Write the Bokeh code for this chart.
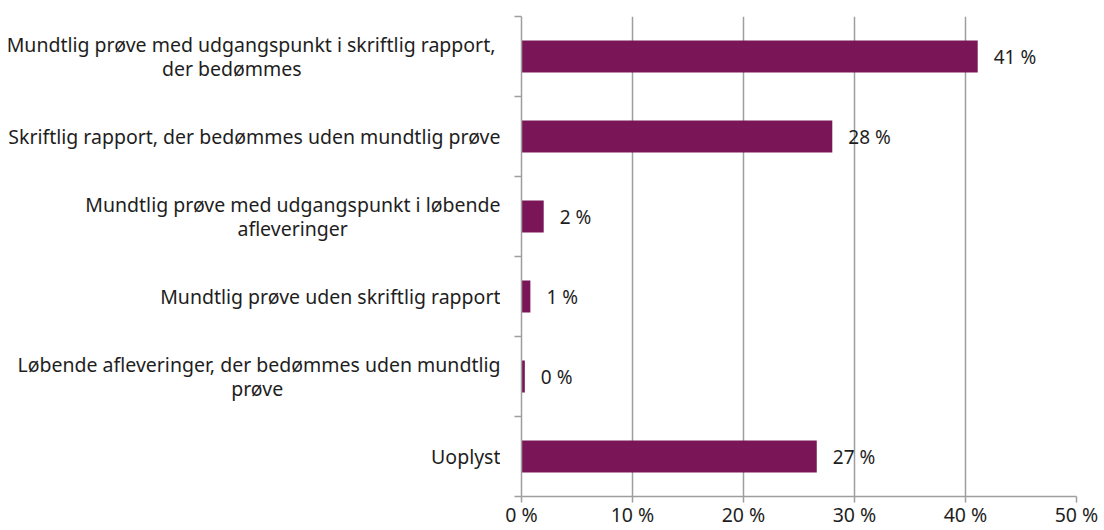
import glob
from bokeh.plotting import figure
from bokeh.layouts import row
from bokeh.models import ColumnDataSource, FixedTicker, Range1d
from bokeh.embed import file_html
from bokeh.resources import INLINE
from bokeh.core.properties import value

categories = [
    "Mundtlig prøve med udgangspunkt i skriftlig  rapport,\nder bedømmes",
    "Skriftlig rapport, der bedømmes uden mundtlig prøve",
    "Mundtlig prøve med udgangspunkt i løbende\nafleveringer",
    "Mundtlig prøve uden skriftlig rapport",
    "Løbende afleveringer, der bedømmes uden mundtlig\nprøve",
    "Uoplyst",
]
values = [41.1, 28.0, 2.0, 0.8, 0.3, 26.6]
x_ticks = [0, 10, 20, 30, 40, 50]

FONT = "Noto Sans"
CAT_SIZE = 19.5
BAR = "#7a1658"
GRID = "#9e9e9e"
TXT = "#1e1e1e"

H = 530
LEFT_W = 500          # width of the label column
MAIN_W = 604
BL, BR, BT, BB = 21, 28, 16, 34
XMAX = 50
n = len(categories)
px_y = (H - BT - BB) / n

centers = [n - i - 0.5 for i in range(n)]
labels = [f"{round(v)} %" for v in values]

# text width measurement (pillow ships with bokeh)
_font = None
try:
    from PIL import ImageFont
    cands = glob.glob("/usr/share/fonts/**/NotoSans-Regular.ttf", recursive=True)
    if cands:
        _font = ImageFont.truetype(cands[0], int(round(CAT_SIZE * 10)))
except Exception:
    _font = None


def text_w(s):
    if _font is not None:
        return _font.getlength(" ".join(s.split())) / 10.0
    return 0.52 * CAT_SIZE * len(s)


# ---- category label column ----
LINE_H = 24
lx, ly, lt, la = [], [], [], []
for c, cat in zip(centers, categories):
    lines = cat.split("\n")
    m = len(lines)
    widths = [text_w(s) for s in lines]
    wmax = max(widths)
    for k, s in enumerate(lines):
        ly.append(c - (k - (m - 1) / 2) * LINE_H / px_y)
        if widths[k] == wmax:
            lx.append(LEFT_W)
            la.append("right")
        else:
            lx.append(LEFT_W - wmax / 2)
            la.append("center")
        lt.append(s)

lab_src = ColumnDataSource(dict(x=lx, y=ly, t=lt, a=la))
pl = figure(width=LEFT_W, height=H, output_backend="svg", toolbar_location=None,
            x_range=Range1d(0, LEFT_W), y_range=Range1d(0, n),
            min_border_left=0, min_border_right=0, min_border_top=BT, min_border_bottom=BB)
pl.axis.visible = False
pl.grid.visible = False
pl.outline_line_color = None
pl.text(x="x", y="y", text="t", text_align="a", source=lab_src, text_baseline="middle",
        text_font=value(FONT), text_font_size=f"{CAT_SIZE}px", text_color=TXT)

# ---- bar chart ----
src = ColumnDataSource(dict(y=centers, v=values, lab=labels))

p = figure(width=MAIN_W, height=H, output_backend="svg", toolbar_location=None,
           x_range=Range1d(0, XMAX), y_range=Range1d(0, n),
           min_border_left=BL, min_border_right=BR, min_border_top=BT, min_border_bottom=BB)
p.outline_line_color = None
p.background_fill_color = "white"
p.border_fill_color = "white"

p.hbar(y="y", right="v", left=0, height=0.4, source=src, color=BAR, line_color=None)
p.text(x="v", y="y", text="lab", source=src, x_offset=16, text_baseline="middle",
       text_align="left", text_font=value(FONT), text_font_size="19px", text_color=TXT)

xa = p.xaxis[0]
xa.ticker = FixedTicker(ticks=x_ticks)
xa.major_label_overrides = {t: f"{t} %" for t in x_ticks}
xa.major_tick_out = 6
xa.major_tick_in = 0
xa.minor_tick_line_color = None
xa.axis_line_color = GRID
xa.axis_line_width = 1.5
xa.major_tick_line_color = GRID
xa.major_tick_line_width = 1.5
xa.major_label_text_font = FONT
xa.major_label_text_font_size = "19.5px"
xa.major_label_text_color = TXT
xa.major_label_standoff = -2

ya = p.yaxis[0]
ya.ticker = FixedTicker(ticks=centers, minor_ticks=list(range(n + 1)))
ya.major_label_text_font_size = "0px"
ya.major_label_text_color = None
ya.major_label_standoff = 0
ya.major_tick_out = 0
ya.major_tick_in = 0
ya.minor_tick_out = 7
ya.minor_tick_in = 0
ya.minor_tick_line_color = GRID
ya.minor_tick_line_width = 1.5
ya.axis_line_color = GRID
ya.axis_line_width = 1.5

p.xgrid.ticker = FixedTicker(ticks=x_ticks)
p.xgrid.grid_line_color = GRID
p.xgrid.grid_line_width = 1.5
p.ygrid.grid_line_color = None

layout = row(pl, p, spacing=0)
open("out.html", "w").write(file_html(layout, INLINE))
